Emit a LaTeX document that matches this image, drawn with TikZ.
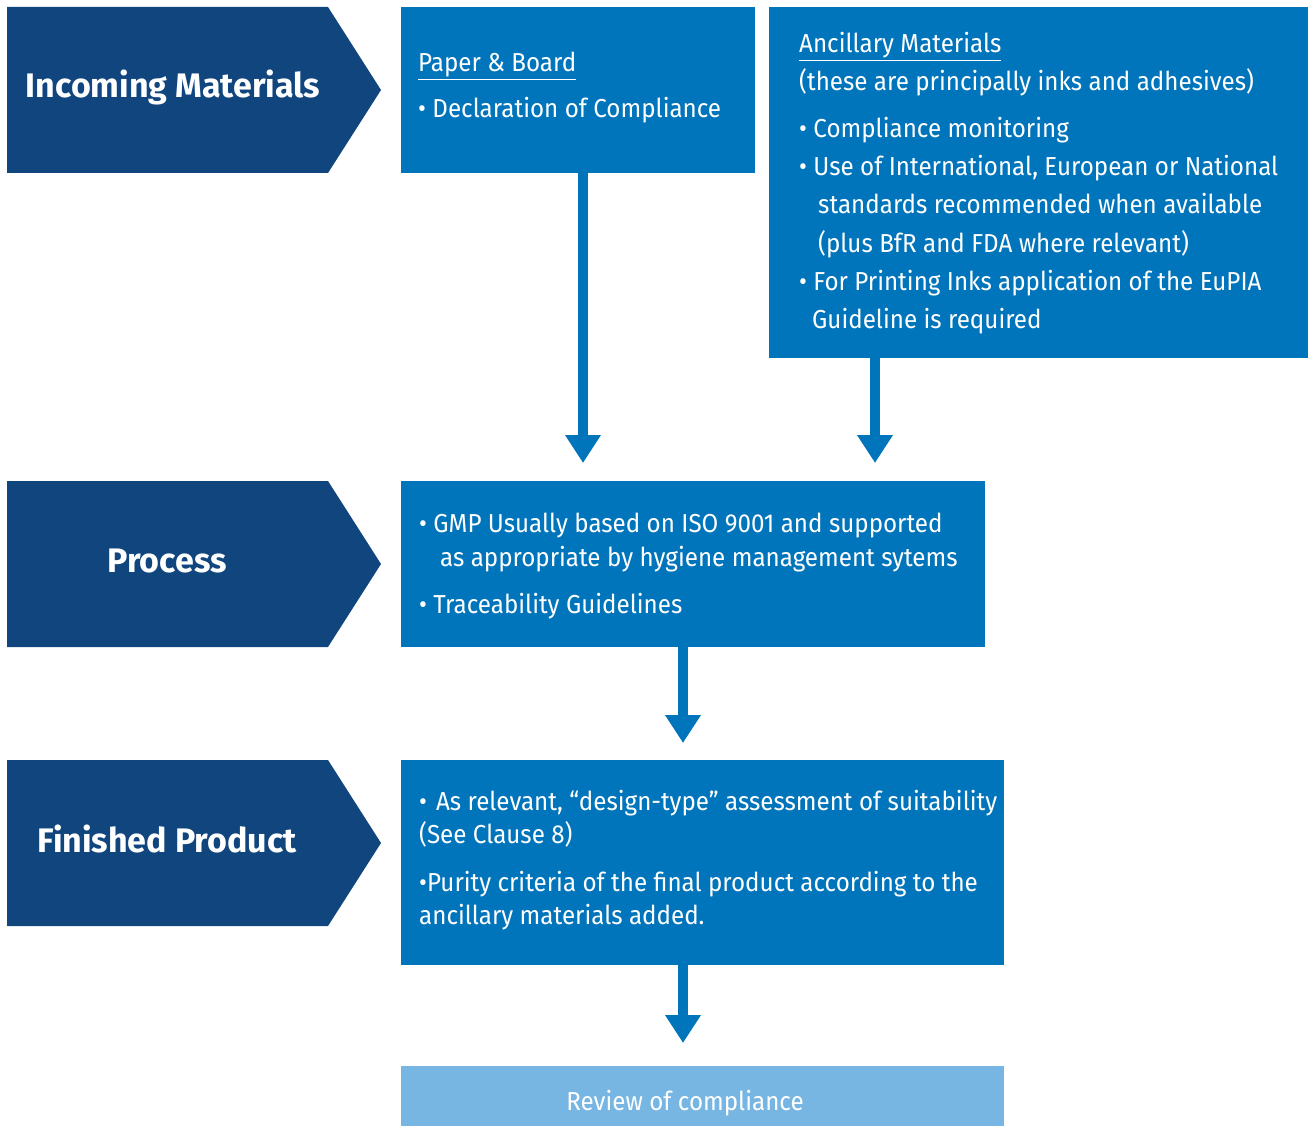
\documentclass[tikz,border=0pt]{standalone}
\usepackage{fontspec}
\setmainfont{Fira Sans}[FakeStretch=0.93]
\newfontfamily\titlefont{Fira Sans}[BoldFont={Fira Sans Bold}]
\usetikzlibrary{arrows.meta}
\definecolor{navy}{RGB}{17,69,126}
\definecolor{boxblue}{RGB}{0,117,187}
\definecolor{lightblue}{RGB}{119,181,226}
\tikzset{
  chev/.style={fill=navy},
  bluebox/.style={fill=boxblue, draw=none, inner sep=0pt, anchor=north west},
  reviewbox/.style={fill=lightblue, draw=none, inner sep=0pt, anchor=north west},
  title/.style={text=white, font=\titlefont\bfseries\fontsize{34}{40}\selectfont, inner sep=0pt},
  body/.style={text=white, font=\fontsize{26}{31}\selectfont, inner sep=0pt, anchor=base west},
  flow/.style={draw=boxblue, line width=10pt, -{Triangle[width=34pt,length=28pt]}},
}
\begin{document}
\begin{tikzpicture}[x=1pt,y=-1pt]
\useasboundingbox (0,0) rectangle (1309,1126);
% chevrons
\fill[chev] (7,7) -- (328,7) -- (381,90) -- (328,173) -- (7,173) -- cycle;
\fill[chev] (7,481) -- (328,481) -- (381,564) -- (328,647) -- (7,647) -- cycle;
\fill[chev] (7,760) -- (328,760) -- (381,843) -- (328,926) -- (7,926) -- cycle;
\node[title] (tin) at (173,87) {Incoming Materials};
\node[title] (tpr) at (167,561) {Process};
\node[title] (tfp) at (167,839) {Finished Product};
% boxes
\node[bluebox, minimum width=354pt, minimum height=166pt] (pb) at (401,7) {};
\node[bluebox, minimum width=539pt, minimum height=351pt] (anc) at (769,7) {};
\node[bluebox, minimum width=584pt, minimum height=166pt] (proc) at (401,481) {};
\node[bluebox, minimum width=603pt, minimum height=205pt] (fin) at (401,760) {};
\node[reviewbox, minimum width=603pt, minimum height=60pt] (rev) at (401,1066) {};
% texts
\node[body] (pb1) at (418,72) {\underline{Paper \& Board}};
\node[body] (pb2) at (418,118) {\textbullet\ Declaration of Compliance};
\node[body] (an1) at (799,53) {\underline{Ancillary Materials}};
\node[body] (an2) at (799,91) {(these are principally inks and adhesives)};
\node[body] (an3) at (799,138) {\textbullet\ Compliance monitoring};
\node[body] (an4) at (799,176) {\textbullet\ Use of International, European or National};
\node[body] (an5) at (818,214) {standards recommended when available};
\node[body] (an6) at (818,252) {(plus BfR and FDA where relevant)};
\node[body] (an7) at (799,290) {\textbullet\ For Printing Inks application of the EuPIA};
\node[body] (an8) at (812,328) {Guideline is required};
\node[body] (pr1) at (419,532) {\textbullet\ GMP Usually based on ISO 9001 and supported};
\node[body] (pr2) at (440,566) {as appropriate by hygiene management sytems};
\node[body] (pr3) at (419,613) {\textbullet\ Traceability Guidelines};
\node[body] (fp1) at (419,810) {\textbullet\hspace{0.35em}As relevant, “design-type” assessment of suitability};
\node[body] (fp2) at (419,843) {(See Clause 8)};
\node[body] (fp3) at (419,891) {\textbullet Purity criteria of the final product according to the};
\node[body] (fp4) at (419,924) {ancillary materials added.};
\node[text=white, font=\fontsize{26}{31}\selectfont, inner sep=0pt, anchor=base] (rv) at (685,1110) {Review of compliance};
% arrows
\coordinate (t1) at (583,463);
\coordinate (t2) at (875,463);
\coordinate (t3) at (683,743);
\coordinate (t4) at (683,1043);
\draw[flow] (pb.south -| t1) -- (t1);
\draw[flow] (anc.south -| t2) -- (t2);
\draw[flow] (proc.south -| t3) -- (t3);
\draw[flow] (fin.south -| t4) -- (t4);
\end{tikzpicture}
\end{document}
